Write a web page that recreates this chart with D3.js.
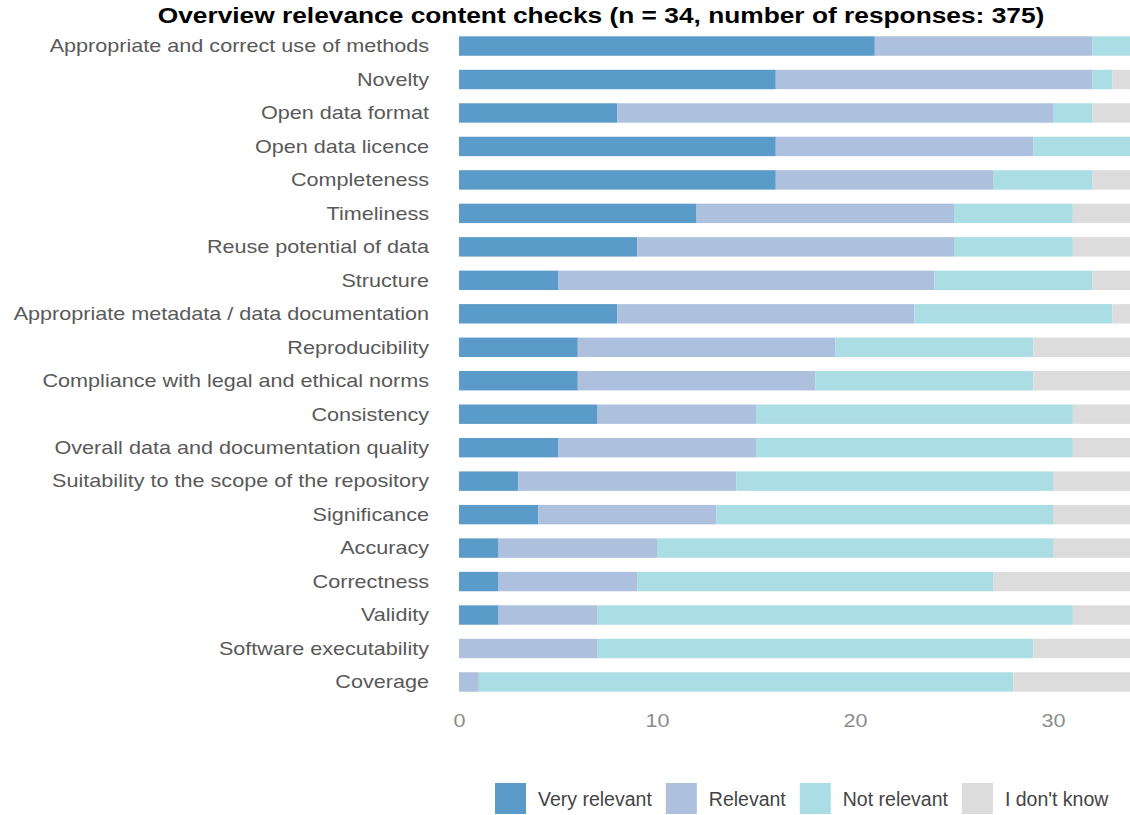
<!DOCTYPE html>
<html>
<head>
<meta charset="utf-8">
<script src="https://cdn.jsdelivr.net/npm/d3@7"></script>
<style>
  html, body { margin: 0; padding: 0; background: #ffffff; }
  svg { display: block; font-family: "Liberation Sans", Arial, Helvetica, sans-serif; }
</style>
</head>
<body>
<svg id="chart" width="1130" height="815"></svg>
<script>
// ---- data ----
const categories = [
  "Appropriate and correct use of methods",
  "Novelty",
  "Open data format",
  "Open data licence",
  "Completeness",
  "Timeliness",
  "Reuse potential of data",
  "Structure",
  "Appropriate metadata / data documentation",
  "Reproducibility",
  "Compliance with legal and ethical norms",
  "Consistency",
  "Overall data and documentation quality",
  "Suitability to the scope of the repository",
  "Significance",
  "Accuracy",
  "Correctness",
  "Validity",
  "Software executability",
  "Coverage"
];
const seriesNames = ["Very relevant", "Relevant", "Not relevant", "I don't know"];
const veryRelevant = [21, 16, 8, 16, 16, 12, 9, 5, 8, 6, 6, 7, 5, 3, 4, 2, 2, 2, 0, 0];
const relevant     = [11, 16, 22, 13, 11, 13, 16, 19, 15, 13, 12, 8, 10, 11, 9, 8, 7, 5, 7, 1];
const notRelevant  = [2, 1, 2, 5, 5, 6, 6, 8, 10, 10, 11, 16, 16, 16, 17, 20, 18, 24, 22, 27];
const dontKnow     = [0, 1, 2, 0, 2, 3, 3, 2, 1, 5, 5, 3, 3, 4, 4, 4, 7, 3, 5, 6];
const xTicks = [0, 10, 20, 30];
const titleText = "Overview relevance content checks (n = 34, number of responses: 375)";
const colors = ["#5b9bc9", "#adc0dd", "#aadde4", "#dcdcdc"];

// ---- build ----
const rows = categories.map((c, i) => ({
  cat: c,
  "Very relevant": veryRelevant[i],
  "Relevant": relevant[i],
  "Not relevant": notRelevant[i],
  "I don't know": dontKnow[i]
}));
const stacked = d3.stack().keys(seriesNames)(rows);

const svg = d3.select("#chart");
const sx = 1.2; // horizontal text stretch seen in reference

const x = d3.scaleLinear().domain([0, 34]).range([459, 1132.2]);
const y = d3.scaleBand().domain(categories).range([29.3, 698.7]).paddingInner(0.42).paddingOuter(0.21);
const color = d3.scaleOrdinal().domain(seriesNames).range(colors);

// bars
svg.append("g").selectAll("g").data(stacked).join("g")
  .attr("fill", d => color(d.key))
  .selectAll("rect").data(d => d).join("rect")
  .attr("x", d => x(d[0]))
  .attr("y", d => y(d.data.cat))
  .attr("width", d => Math.max(0, x(d[1]) - x(d[0])))
  .attr("height", y.bandwidth());

// category labels
svg.append("g").selectAll("text").data(categories).join("text")
  .attr("transform", d => `translate(429,${y(d) + y.bandwidth() / 2 + 6.3}) scale(${sx},1)`)
  .attr("text-anchor", "end")
  .attr("font-size", 18)
  .attr("fill", "#595959")
  .text(d => d);

// x axis (labels only)
const xAxis = d3.axisBottom(x).tickValues(xTicks).tickSize(0).tickPadding(0);
const gx = svg.append("g").attr("transform", "translate(0,700)").call(xAxis);
gx.select(".domain").remove();
gx.selectAll("text")
  .attr("font-family", "Liberation Sans, Arial, sans-serif")
  .attr("font-size", 18)
  .attr("fill", "#8c8c8c")
  .attr("dy", null)
  .attr("y", 0)
  .attr("transform", `translate(0,26.5) scale(${sx},1)`);

// title
svg.append("text")
  .attr("transform", `translate(601,23) scale(1.175,1)`)
  .attr("text-anchor", "middle")
  .attr("font-size", 22.4)
  .attr("font-weight", "bold")
  .attr("fill", "#000")
  .text(titleText);

// legend
const lg = svg.append("g");
let lx = 495;
seriesNames.forEach((name, i) => {
  lg.append("rect").attr("x", lx).attr("y", 783).attr("width", 31).attr("height", 31).attr("fill", colors[i]);
  const t = lg.append("text")
    .attr("x", lx + 43).attr("y", 805.5)
    .attr("font-size", 19.5)
    .attr("fill", "#444")
    .text(name);
  const w = t.node().getComputedTextLength();
  lx += 43 + w + 14;
});
</script>
</body>
</html>
